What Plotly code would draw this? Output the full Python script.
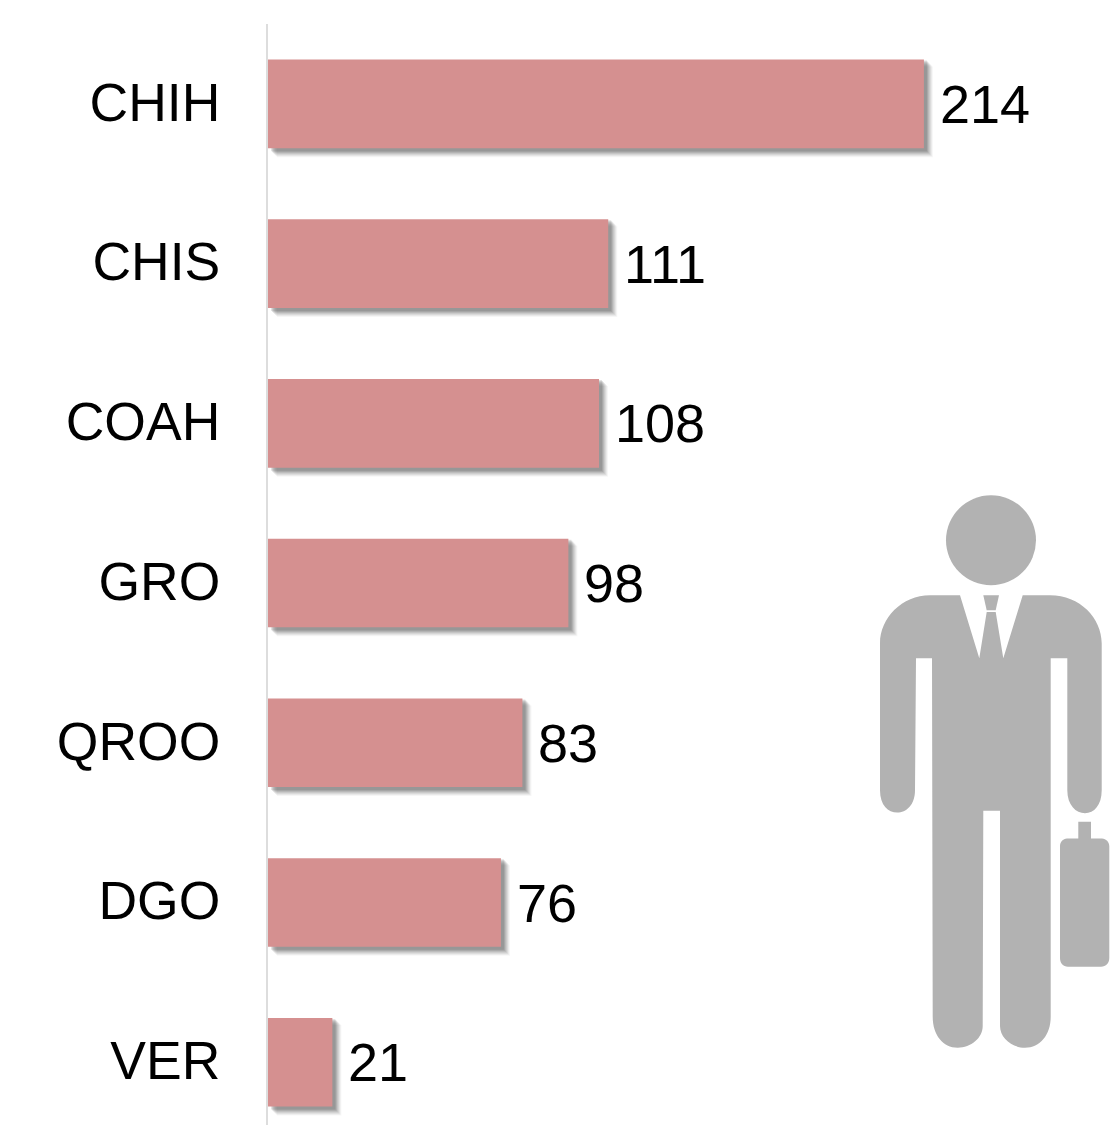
import plotly.graph_objects as go

categories = ["CHIH", "CHIS", "COAH", "GRO", "QROO", "DGO", "VER"]
values = [214, 111, 108, 98, 83, 76, 21]

W, H = 1112, 1125
LEFT, TOP = 268, 23.5
PX_PER_UNIT = 3.065
STEP = 159.8
BAR_W = 0.555
FONT = "Liberation Sans, Arial, sans-serif"
BAR = "#D59090"
ICON = "#B2B2B2"

fig = go.Figure()

# soft drop shadow: stacked translucent copies of the bars, shifted right and down
for px, alpha in [(9, .05), (8, .07), (7, .09), (6, .11), (5, .13), (4, .15), (3, .15)]:
    fig.add_trace(go.Bar(
        x=values, y=categories, orientation="h",
        base=px / PX_PER_UNIT,
        width=BAR_W + 2 * 1 / STEP,
        offset=-BAR_W / 2 + (px - 2) / STEP,
        marker=dict(color=f"rgba(70,70,70,{alpha})", line_width=0),
        hoverinfo="skip", showlegend=False))

fig.add_trace(go.Bar(
    x=values, y=categories, orientation="h", width=BAR_W,
    marker=dict(color=BAR, line_width=0), showlegend=False))

for c, v in zip(categories, values):
    fig.add_annotation(x=v, y=c, text=str(v), xref="x", yref="y", showarrow=False,
                       xanchor="left", yanchor="middle", xshift=14, yshift=0,
                       font=dict(family=FONT, size=54, color="#000000"))


def X(p):
    return (p - LEFT) / (W - LEFT)


def Y(p):
    return (H - p) / (H - TOP)


def path(cmds):
    out = []
    for cmd in cmds:
        letter, pts = cmd[0], cmd[1:]
        out.append(letter + " ".join(f"{X(a):.5f},{Y(b):.5f}" for a, b in pts))
    return " ".join(out) + " Z"


body = [
    ("M", (960, 595)), ("L", (979.3, 658)), ("L", (986.7, 611.7)), ("L", (995.7, 611.7)),
    ("L", (1003.3, 658)), ("L", (1022.7, 595)), ("L", (1050, 595)),
    ("C", (1080, 595), (1101.7, 618), (1101.7, 643)),
    ("L", (1101.7, 790)),
    ("C", (1101.7, 805), (1094, 813), (1085, 813)),
    ("C", (1076, 813), (1067.3, 805), (1067.3, 790)),
    ("L", (1067.3, 658)), ("L", (1050.7, 658)), ("L", (1050.7, 1016.7)),
    ("C", (1050.7, 1035), (1040, 1047.7), (1025, 1047.7)),
    ("C", (1012, 1047.7), (1000, 1038), (1000, 1026)),
    ("L", (1000, 810.7)), ("L", (983.3, 810.7)), ("L", (982.7, 1026)),
    ("C", (982.7, 1038), (971, 1047.7), (957.7, 1047.7)),
    ("C", (943, 1047.7), (932.7, 1035), (932.7, 1016.7)),
    ("L", (932, 658)), ("L", (916, 658)), ("L", (915, 790)),
    ("C", (915, 805), (906, 812.3), (897.3, 812.3)),
    ("C", (888, 812.3), (880, 805), (880, 790)),
    ("L", (880, 643)),
    ("C", (880, 618), (902, 595), (930, 595)),
]
knot = [("M", (983.3, 595)), ("L", (999, 595)), ("L", (995.7, 610)), ("L", (986.7, 610))]
case = [
    ("M", (1078.3, 821.7)), ("L", (1091, 821.7)), ("L", (1091, 838.3)), ("L", (1102, 838.3)),
    ("C", (1106, 838.3), (1109.3, 842), (1109.3, 846)),
    ("L", (1109.3, 958)),
    ("C", (1109.3, 963), (1106, 966.7), (1101, 966.7)),
    ("L", (1068, 966.7)),
    ("C", (1063, 966.7), (1060, 963), (1060, 958)),
    ("L", (1060, 846)),
    ("C", (1060, 842), (1063, 838.3), (1067, 838.3)),
    ("L", (1078.3, 838.3)),
]
shapes = [dict(type="path", xref="paper", yref="paper", path=path(p),
               fillcolor=ICON, line_width=0, layer="above") for p in (body, knot, case)]
shapes.append(dict(type="circle", xref="paper", yref="paper",
                   x0=X(946), x1=X(1036), y0=Y(585), y1=Y(495),
                   fillcolor=ICON, line_width=0, layer="above"))

fig.update_layout(
    width=W, height=H, barmode="overlay",
    margin=dict(l=LEFT, r=0, t=TOP, b=0, pad=0),
    paper_bgcolor="white", plot_bgcolor="white", showlegend=False,
    shapes=shapes,
    xaxis=dict(range=[0, (W - LEFT) / PX_PER_UNIT], visible=False, fixedrange=True),
    yaxis=dict(type="category", categoryorder="array", categoryarray=categories,
               range=[-0.5 + (H - TOP) / STEP, -0.5], showgrid=False, zeroline=False,
               showline=True, linecolor="#DDDDDD", linewidth=2,
               ticks="", ticklabelstandoff=35, ticklabelshift=2, fixedrange=True,
               tickfont=dict(family=FONT, size=53.5, color="#000000")),
)

fig.write_html("out.html", config={"displayModeBar": False},
               post_script="document.body.style.margin='0';document.body.style.overflow='hidden';")
